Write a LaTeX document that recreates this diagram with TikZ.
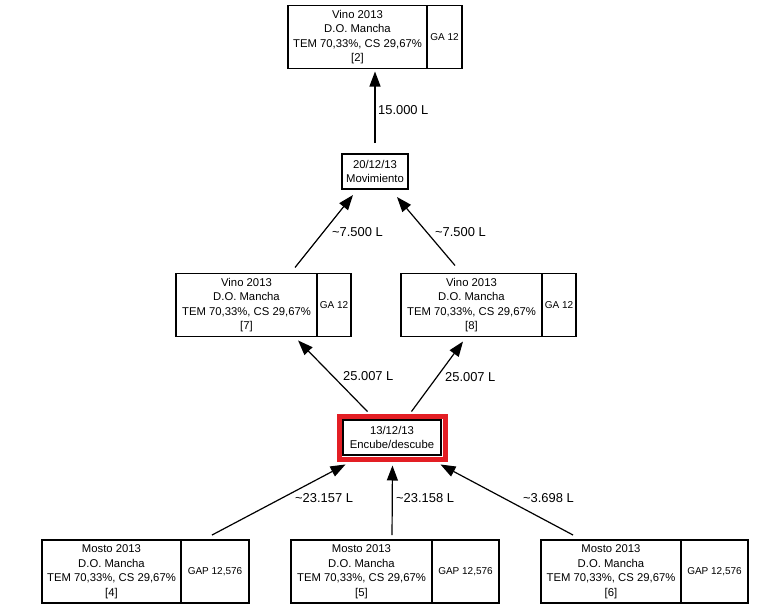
\documentclass[tikz,border=0pt]{standalone}
\usepackage{fontspec}
\setmainfont{Liberation Sans}
\usetikzlibrary{arrows.meta,positioning}
\definecolor{hlred}{RGB}{227,30,36}

\begin{document}
\begin{tikzpicture}[x=1pt,y=-1pt,
	lote/.style={draw, line width=1.5pt, align=center, inner sep=0pt, outer sep=0pt,
		minimum height=63pt, font=\fontsize{11.3}{14.5}\selectfont},
	grado/.style={draw, line width=1.5pt, inner sep=0pt, outer sep=0pt,
		minimum height=63pt, font=\fontsize{10}{11}\selectfont},
	oper/.style={draw, line width=1.5pt, align=center, inner sep=0pt, outer sep=0pt,
		font=\fontsize{11.3}{14.5}\selectfont},
	marco/.style={draw=hlred, line width=5pt, outer sep=0pt},
	flujo/.style={line width=1.2pt, -{Triangle[length=15pt,width=11pt]}},
	cant/.style={anchor=west, inner sep=0pt, font=\fontsize{12.9}{14}\selectfont}]

	\useasboundingbox (0,0) rectangle (780,608);

	% vino final
	\node[lote, minimum width=139pt] (vino2) at (357.5,37) {Vino 2013\\D.O. Mancha\\TEM 70,33\%, CS 29,67\%\\{[2]}};
	\node[grado, minimum width=35pt, right=0pt of vino2] (vino2ga) {GA 12};

	\node[oper, minimum width=66pt, minimum height=35pt] (movim) at (375,171.5) {20/12/13\\Movimiento};

	% vinos intermedios
	\node[lote, minimum width=141pt] (vino7) at (246.5,305) {Vino 2013\\D.O. Mancha\\TEM 70,33\%, CS 29,67\%\\{[7]}};
	\node[grado, minimum width=34pt, right=0pt of vino7] (vino7ga) {GA 12};
	\node[lote, minimum width=141pt] (vino8) at (471.5,305) {Vino 2013\\D.O. Mancha\\TEM 70,33\%, CS 29,67\%\\{[8]}};
	\node[grado, minimum width=34pt, right=0pt of vino8] (vino8ga) {GA 12};

	% encube
	\node[marco, minimum width=106pt, minimum height=43pt] (encubemarco) at (392.5,438) {};
	\node[oper, minimum width=98pt, minimum height=35pt] (encube) at (392,437.5) {13/12/13\\Encube/descube};

	% mostos
	\node[lote, minimum width=139pt] (mosto4) at (111.5,571.5) {Mosto 2013\\D.O. Mancha\\TEM 70,33\%, CS 29,67\%\\{[4]}};
	\node[grado, minimum width=68pt, right=0pt of mosto4] (mosto4ga) {GAP 12,576};
	\node[lote, minimum width=141pt] (mosto5) at (361.5,571.5) {Mosto 2013\\D.O. Mancha\\TEM 70,33\%, CS 29,67\%\\{[5]}};
	\node[grado, minimum width=67pt, right=0pt of mosto5] (mosto5ga) {GAP 12,576};
	\node[lote, minimum width=140pt] (mosto6) at (611,571.5) {Mosto 2013\\D.O. Mancha\\TEM 70,33\%, CS 29,67\%\\{[6]}};
	\node[grado, minimum width=67pt, right=0pt of mosto6] (mosto6ga) {GAP 12,576};

	% flujos
	\draw[flujo, shorten <=11pt, shorten >=3pt] (movim.north) -- (movim.north |- vino2.south);
	\draw[flujo, shorten <=7.7pt, shorten >=7.7pt] ([xshift=43.7pt]vino7.north) -- ([xshift=-17.2pt]movim.south);
	\draw[flujo, shorten <=10.5pt, shorten >=10.5pt] ([xshift=-9.7pt]vino8.north) -- ([xshift=15.2pt]movim.south);
	\draw[flujo, shorten <=6.9pt, shorten >=5.5pt] ([xshift=-20.2pt]encubemarco.north) -- ([xshift=47.7pt]vino7.south);
	\draw[flujo, shorten <=6.2pt, shorten >=6.2pt] ([xshift=15.3pt]encubemarco.north) -- ([xshift=-4.8pt]vino8.south);
	\draw[flujo, shorten <=10.6pt, shorten >=10.6pt] ([xshift=91.1pt]mosto4.north) -- ([xshift=-37.6pt]encubemarco.south);
	\draw[flujo, shorten <=5pt, shorten >=6pt] ([xshift=30.5pt]mosto5.north) -- (encubemarco.south);
	\draw[flujo, shorten <=10.6pt, shorten >=10.6pt] ([xshift=-28.6pt]mosto6.north) -- ([xshift=38.6pt]encubemarco.south);

	% cantidades
	\node[cant] (c1) at (378,110) {15.000 L};
	\node[cant] (c2) at (332,232) {\textasciitilde7.500 L};
	\node[cant] (c3) at (435,232) {\textasciitilde7.500 L};
	\node[cant] (c4) at (343,376) {25.007 L};
	\node[cant] (c5) at (445,377) {25.007 L};
	\node[cant] (c6) at (295,498) {\textasciitilde23.157 L};
	\node[cant] (c7) at (396,498) {\textasciitilde23.158 L};
	\node[cant] (c8) at (523,498) {\textasciitilde3.698 L};

\end{tikzpicture}
\end{document}
